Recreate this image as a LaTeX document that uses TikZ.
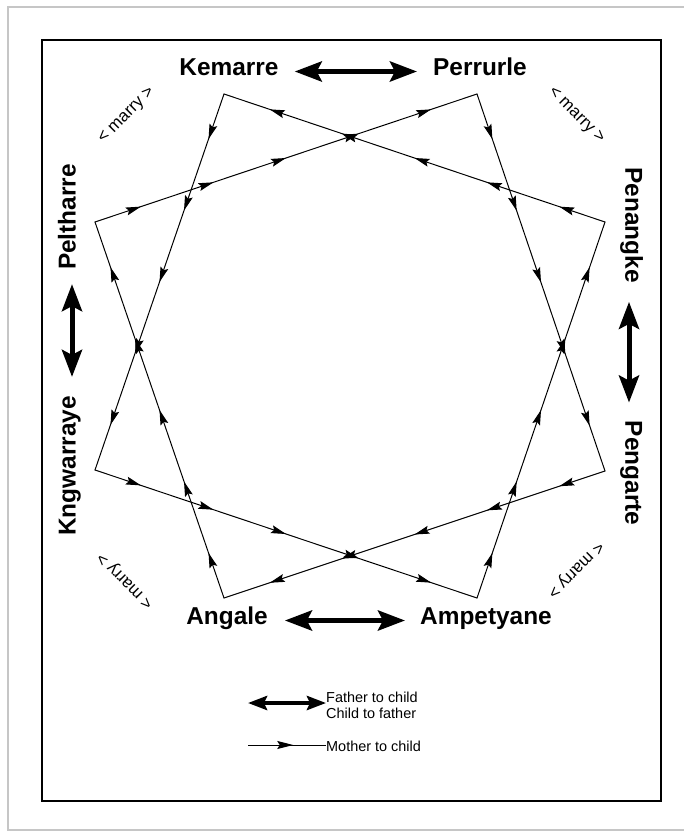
\documentclass[tikz,border=0pt]{standalone}
\usepackage{fontspec}
\setmainfont{Liberation Sans}
\usetikzlibrary{arrows.meta, decorations.markings}

\begin{document}
\begin{tikzpicture}[x=1bp, y=-1bp,
  skin/.style={font=\bfseries\fontsize{24.5}{28}\selectfont, inner sep=0pt, text height=0.72em, text depth=0pt},
  marry/.style={font=\fontsize{17}{19}\selectfont, inner sep=0pt},
  keytext/.style={font=\fontsize{14.5}{16}\selectfont, inner sep=0pt, align=left, anchor=west},
  father/.style={line width=5bp, {Stealth[length=27bp,width=20bp,inset=5bp]}-{Stealth[length=27bp,width=20bp,inset=5bp]}},
  fatherkey/.style={line width=4bp, {Stealth[length=19bp,width=14bp,inset=3bp]}-{Stealth[length=19bp,width=14bp,inset=3bp]}},
  mline/.style={line width=1bp, line cap=round, postaction={decorate}, decoration={markings,
    mark=at position 0.12 with {\arrow{Stealth[length=15bp,width=8bp,inset=2.5bp]}},
    mark=at position 0.31 with {\arrow{Stealth[length=15bp,width=8bp,inset=2.5bp]}},
    mark=at position 0.50 with {\arrow{Stealth[length=15bp,width=8bp,inset=2.5bp]}},
    mark=at position 0.69 with {\arrow{Stealth[length=15bp,width=8bp,inset=2.5bp]}},
    mark=at position 0.88 with {\arrow{Stealth[length=15bp,width=8bp,inset=2.5bp]}}}},
  motherkey/.style={line width=1bp, postaction={decorate}, decoration={markings,
    mark=at position 0.58 with {\arrow{Stealth[length=16bp,width=8bp,inset=2.5bp]}}}}
]
\useasboundingbox (0,0) rectangle (684,832);
\draw[gray!45, line width=1.2bp] (684,7) -- (8,7) -- (8,830) -- (684,830);
\draw[line width=1.3bp] (42,40) rectangle (661,801);

\coordinate (kem) at (224,94);
\coordinate (per) at (477,94);
\coordinate (pen) at (605,222);
\coordinate (peng) at (605,471);
\coordinate (amp) at (477,598);
\coordinate (ang) at (224,598);
\coordinate (kng) at (95,470);
\coordinate (pel) at (95,222);

\draw[mline] (pen) -- (kem);
\draw[mline] (kem) -- (kng);
\draw[mline] (kng) -- (amp);
\draw[mline] (amp) -- (pen);
\draw[mline] (pel) -- (per);
\draw[mline] (per) -- (peng);
\draw[mline] (peng) -- (ang);
\draw[mline] (ang) -- (pel);

\node[skin] (kemarre) at (229,71.5) {Kemarre};
\node[skin] (perrurle) at (480,71.5) {Perrurle};
\node[skin, rotate=90] (peltharre) at (72,217) {Peltharre};
\node[skin, rotate=90] (kngwarraye) at (72,466) {Kngwarraye};
\node[skin, rotate=-90] (penangke) at (629,225) {Penangke};
\node[skin, rotate=-90] (pengarte) at (629,473) {Pengarte};
\node[skin] (angale) at (227,620.5) {Angale};
\node[skin] (ampetyane) at (486,620.5) {Ampetyane};

\draw[father, shorten <=16bp, shorten >=16bp] (kemarre) -- (perrurle);
\draw[father, shorten <=17bp, shorten >=15bp] (angale) -- (ampetyane);
\draw[father, shorten <=14bp, shorten >=19bp] (peltharre) -- (kngwarraye);
\draw[father, shorten <=19bp, shorten >=18bp] (penangke) -- (pengarte);

\node[marry, rotate=45] (marrytl) at (127,116) {< marry >};
\node[marry, rotate=-45] (marrytr) at (576,116) {< marry >};
\node[marry, rotate=135] (marrybl) at (126,580) {< marry >};
\node[marry, rotate=-135] (marrybr) at (575,569) {< marry >};

\node[keytext] (fathertext) at (326,705) {Father to child\\Child to father};
\coordinate (fathertail) at (248,703);
\draw[fatherkey] (fathertail) -- (fathertail -| fathertext.west);
\node[keytext] (mothertext) at (326,746) {Mother to child};
\coordinate (mothertail) at (248,745);
\draw[motherkey] (mothertail) -- (mothertail -| mothertext.west);
\end{tikzpicture}
\end{document}
